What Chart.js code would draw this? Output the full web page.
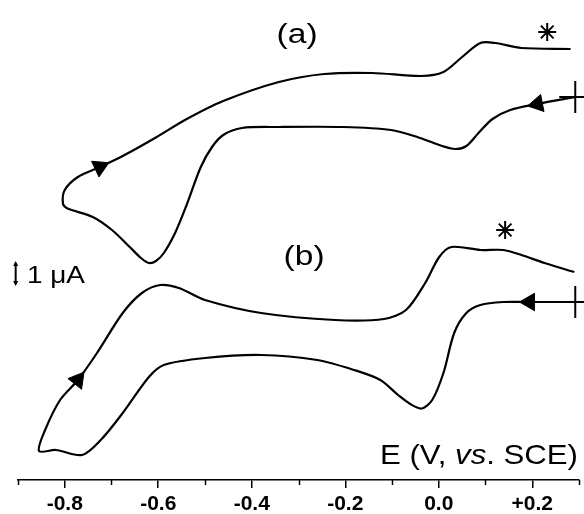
<!DOCTYPE html>
<html>
<head>
<meta charset="utf-8">
<script src="https://cdn.jsdelivr.net/npm/chart.js@4/dist/chart.umd.min.js"></script>
<style>
  html, body { margin: 0; padding: 0; background: #fff; overflow: hidden; }
  #wrap { width: 584px; height: 514px; }
</style>
</head>
<body>
<div id="wrap"><canvas id="cv"></canvas></div>
<script>
// curve (a): potential (V vs SCE) and current (uA, stacked offset), starting at the cross
const aE = [0.292, 0.211, 0.153, 0.115, 0.085, 0.059, 0.035, 0.001, -0.046, -0.102,
            -0.204, -0.342, -0.421, -0.461, -0.485, -0.509, -0.541, -0.564, -0.588, -0.605,
            -0.620, -0.637, -0.661, -0.699, -0.740, -0.796, -0.804, -0.800, -0.772, -0.725,
            -0.676, -0.605, -0.541, -0.461, -0.342, -0.245, -0.142, -0.037, 0.010, 0.050,
            0.089, 0.121, 0.177, 0.282];
const aI = [15.28, 15.00, 14.76, 14.40, 13.84, 13.32, 13.20, 13.36, 13.68, 13.96,
            14.08, 14.08, 14.04, 13.76, 13.28, 12.48, 10.88, 9.84, 9.04, 8.72,
            8.64, 8.84, 9.28, 9.96, 10.48, 10.84, 11.04, 11.56, 12.08, 12.48,
            12.92, 13.66, 14.38, 15.12, 15.88, 16.20, 16.24, 16.12, 16.28, 16.88,
            17.44, 17.44, 17.24, 17.20];
// curve (b)
const bE = [0.292, 0.194, 0.138, 0.089, 0.059, 0.033, 0.010, -0.014, -0.037, -0.061,
            -0.087, -0.125, -0.181, -0.260, -0.380, -0.500, -0.588, -0.620, -0.676, -0.723,
            -0.763, -0.819, -0.855, -0.842, -0.810, -0.772, -0.731, -0.676, -0.635, -0.596,
            -0.556, -0.500, -0.380, -0.222, -0.117, -0.070, -0.029, 0.001, 0.027, 0.089,
            0.138, 0.177, 0.226, 0.290];
const bI = [7.08, 7.08, 7.08, 6.96, 6.64, 5.84, 4.24, 3.16, 2.82, 3.00,
            3.36, 3.96, 4.36, 4.76, 4.96, 4.84, 4.56, 4.08, 2.64, 1.56,
            0.96, 1.16, 1.12, 1.96, 3.16, 3.96, 5.04, 6.64, 7.44, 7.76,
            7.64, 7.16, 6.64, 6.36, 6.40, 6.76, 7.84, 8.88, 9.28, 9.16,
            9.16, 8.96, 8.64, 8.28];
// sweep-direction arrows (point indexes)
const arrowsA = [1, 29];
const arrowsB = [1, 25];
// asterisks
const starE = [0.232, 0.142];
const starI = [17.88, 9.96];
// panel labels
const panelText = ['(a)', '(b)'];
const panelE = [-0.303, -0.288];
const panelI = [17.74, 8.86];
// x tick labels
const majorTicks = [-0.8, -0.6, -0.4, -0.2, 0.0, 0.2];
const majorLabels = ['-0.8', '-0.6', '-0.4', '-0.2', '0.0', '+0.2'];

const FONT = '"Liberation Sans", Arial, sans-serif';

function pts(E, I) { return E.map((e, i) => ({ x: e, y: I[i] })); }

function isMajor(v) { return majorTicks.some(t => Math.abs(t - v) < 1e-6); }

function arrowRot(ctx, E, I) {
  const i = ctx.dataIndex, ch = ctx.chart;
  const sx = ch.scales.x, sy = ch.scales.y;
  const p = Math.max(i - 1, 0), n = Math.min(i + 1, E.length - 1);
  const dx = sx.getPixelForValue(E[n]) - sx.getPixelForValue(E[p]);
  const dy = sy.getPixelForValue(I[n]) - sy.getPixelForValue(I[p]);
  return Math.atan2(dx, -dy) * 180 / Math.PI;
}

function curve(E, I, arrows) {
  return {
    data: pts(E, I),
    showLine: true,
    borderColor: '#000',
    borderWidth: 2.2,
    tension: 0.3,
    clip: false,
    pointStyle: c => c.dataIndex === 0 ? 'cross' : 'triangle',
    pointRadius: c => c.dataIndex === 0 ? 16 : (arrows.includes(c.dataIndex) ? 10 : 0),
    pointRotation: c => arrows.includes(c.dataIndex) ? arrowRot(c, E, I) : 0,
    pointBackgroundColor: '#000',
    pointBorderColor: '#000',
    pointBorderWidth: c => c.dataIndex === 0 ? 2 : 1
  };
}

function stretchText(ctx, parts, x, y, fs, width, align) {
  let nat = 0;
  parts.forEach(p => {
    ctx.font = (p[1] ? 'italic ' : '') + fs + 'px ' + FONT;
    nat += ctx.measureText(p[0]).width;
  });
  const k = width / nat;
  const x0 = align === 'right' ? x - width : (align === 'center' ? x - width / 2 : x);
  ctx.save();
  ctx.translate(x0, y);
  ctx.scale(k, 1);
  ctx.textBaseline = 'alphabetic';
  ctx.textAlign = 'left';
  ctx.fillStyle = '#000';
  let cx = 0;
  parts.forEach(p => {
    ctx.font = (p[1] ? 'italic ' : '') + fs + 'px ' + FONT;
    ctx.fillText(p[0], cx, 0);
    cx += ctx.measureText(p[0]).width;
  });
  ctx.restore();
}

const extras = {
  id: 'extras',
  afterDraw(chart) {
    const ctx = chart.ctx, sx = chart.scales.x, sy = chart.scales.y;
    const area = chart.chartArea;
    ctx.save();
    // minor ticks
    ctx.strokeStyle = '#000';
    ctx.lineWidth = 1.5;
    sx.ticks.forEach(t => {
      if (isMajor(t.value)) return;
      const px = Math.round(sx.getPixelForValue(t.value)) + 0.5;
      ctx.beginPath();
      ctx.moveTo(px, area.bottom);
      ctx.lineTo(px, area.bottom + 5);
      ctx.stroke();
    });
    // panel labels
    panelText.forEach((s, i) => {
      const px = sx.getPixelForValue(panelE[i]);
      const py = sy.getPixelForValue(panelI[i]);
      stretchText(ctx, [[s, false]], px, py + 0.26 * 27, 27, 41, 'center');
    });
    // scale bar: 1 uA
    const bx = sx.getPixelForValue(-0.905);
    const y0 = sy.getPixelForValue(7.72), y1 = sy.getPixelForValue(8.72);
    ctx.lineWidth = 2;
    ctx.beginPath();
    ctx.moveTo(bx, y0 - 2); ctx.lineTo(bx, y1 + 2);
    ctx.stroke();
    ctx.fillStyle = '#000';
    ctx.beginPath();
    ctx.moveTo(bx, y1); ctx.lineTo(bx - 2.5, y1 + 5); ctx.lineTo(bx + 2.5, y1 + 5); ctx.closePath();
    ctx.moveTo(bx, y0); ctx.lineTo(bx - 2.5, y0 - 5); ctx.lineTo(bx + 2.5, y0 - 5); ctx.closePath();
    ctx.fill();
    stretchText(ctx, [['1 \u03BCA', false]], sx.getPixelForValue(-0.881), sy.getPixelForValue(7.84), 23, 58, 'left');
    // axis title
    stretchText(ctx, [['E (V, ', false], ['vs', true], ['. SCE)', false]],
      area.right - 1, area.bottom - 16, 28, 198, 'right');
    ctx.restore();
  }
};

new Chart(document.getElementById('cv'), {
  type: 'scatter',
  data: {
    datasets: [
      curve(aE, aI, arrowsA),
      curve(bE, bI, arrowsB),
      {
        data: pts(starE, starI),
        showLine: false,
        pointStyle: 'star',
        pointRadius: 9,
        pointBorderWidth: 2,
        pointBorderColor: '#000',
        clip: false
      }
    ]
  },
  options: {
    responsive: true,
    maintainAspectRatio: false,
    animation: false,
    layout: { autoPadding: false, padding: { left: 18, right: 5, top: 0, bottom: 0 } },
    plugins: { legend: { display: false }, tooltip: { enabled: false } },
    scales: {
      x: {
        type: 'linear',
        min: -0.9,
        max: 0.3,
        border: { display: true, color: '#000', width: 1.5 },
        grid: {
          drawOnChartArea: false,
          tickLength: 8,
          lineWidth: 1.5,
          tickColor: c => isMajor(c.tick.value) ? '#000' : 'rgba(0,0,0,0)'
        },
        ticks: {
          stepSize: 0.1,
          autoSkip: false,
          maxRotation: 0,
          padding: 6,
          color: '#000',
          font: { family: FONT, size: 21, weight: 'bold', lineHeight: 1 },
          callback: v => {
            const k = majorTicks.findIndex(t => Math.abs(t - v) < 1e-6);
            return k < 0 ? '' : majorLabels[k];
          }
        },
        afterFit: s => {
          s.height = 34;
          s.paddingLeft = 0;
          s.paddingRight = 0;
        }
      },
      y: { display: false, min: -0.04, max: 19.16 }
    }
  },
  plugins: [extras]
});
</script>
</body>
</html>
